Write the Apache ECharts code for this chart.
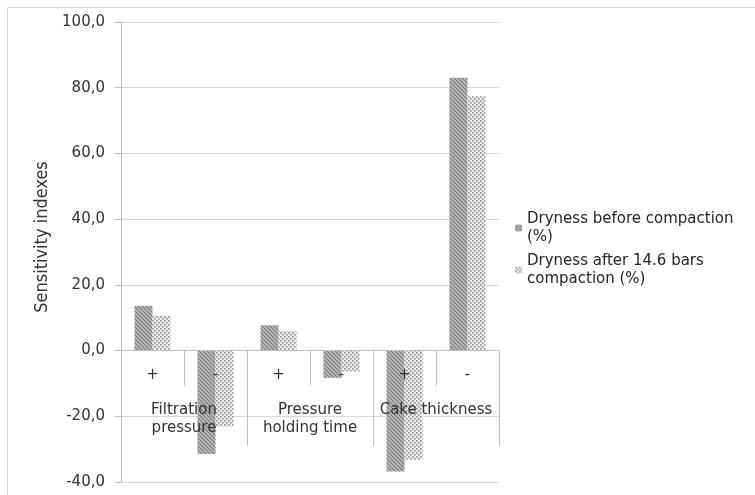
<!DOCTYPE html>
<html>
<head>
<meta charset="utf-8">
<script src="https://cdn.jsdelivr.net/npm/echarts@6/dist/echarts.min.js"></script>
<style>html,body{margin:0;padding:0;background:#fff;}#c{width:755px;height:495px;}</style>
</head>
<body>
<div id="c"></div>
<script>
// ---- data ----
const levels = ['+', '-', '+', '-', '+', '-'];
const groupLabels = ['Filtration\npressure', 'Pressure\nholding time', 'Cake thickness'];
const seriesNames = ['Dryness before compaction\n(%)', 'Dryness after 14.6 bars\ncompaction (%)'];
const beforeCompaction = [13.6, -31.5, 7.7, -8.3, -36.8, 83.0];
const afterCompaction = [10.6, -23.1, 5.9, -6.4, -33.2, 77.4];
const yTicks = { min: -40, max: 100, step: 20 };

// ---- patterns ----
function hatchPattern() {
  const c = document.createElement('canvas');
  c.width = 4; c.height = 4;
  const g = c.getContext('2d');
  g.fillStyle = '#bdbdbd'; g.fillRect(0, 0, 4, 4);
  g.strokeStyle = '#7a7a7a'; g.lineWidth = 1.2;
  g.beginPath();
  g.moveTo(-1, -1); g.lineTo(5, 5);
  g.moveTo(-3, 1); g.lineTo(1, 5);
  g.moveTo(1, -3); g.lineTo(5, 1);
  g.stroke();
  return { image: c, repeat: 'repeat' };
}
function dotPattern() {
  const c = document.createElement('canvas');
  c.width = 4; c.height = 4;
  const g = c.getContext('2d');
  g.fillStyle = '#ececec'; g.fillRect(0, 0, 4, 4);
  g.fillStyle = '#8e8e8e';
  g.fillRect(0, 0, 1.6, 1.6);
  g.fillRect(2, 2, 1.6, 1.6);
  return { image: c, repeat: 'repeat' };
}

const FONT = 'DejaVu Sans';
const GRID_TOP = 22, GRID_BOTTOM = 13, GRID_LEFT = 121, GRID_RIGHT = 256;
const plotH = 495 - GRID_TOP - GRID_BOTTOM;
const zeroY = GRID_TOP + plotH * yTicks.max / (yTicks.max - yTicks.min);

const chart = echarts.init(document.getElementById('c'), null, { renderer: 'canvas' });
chart.setOption({
  animation: false,
  backgroundColor: '#fff',
  textStyle: { fontFamily: FONT },
  graphic: [{
    type: 'rect', z: -10, silent: true,
    shape: { x: 7.5, y: 7.5, width: 800, height: 600 },
    style: { fill: 'none', stroke: '#d9d9d9', lineWidth: 1 }
  }],
  grid: [
    { left: GRID_LEFT, right: GRID_RIGHT, top: GRID_TOP, bottom: GRID_BOTTOM, containLabel: false, outerBoundsMode: 'none' },
    { left: GRID_LEFT, right: GRID_RIGHT, top: zeroY, height: 100, containLabel: false, outerBoundsMode: 'none' }
  ],
  legend: {
    orient: 'vertical', left: 515, top: 201, padding: 0,
    itemWidth: 7, itemHeight: 7, itemGap: -12,
    textStyle: { fontFamily: FONT, fontSize: 15, lineHeight: 18, color: '#262626', padding: [18, 0, 0, 0] },
    data: seriesNames
  },
  xAxis: [{
    gridIndex: 0, type: 'category', data: levels, z: 3,
    axisLine: { onZero: true, lineStyle: { color: '#bfbfbf', width: 1 } },
    axisTick: { show: false },
    axisLabel: { show: false },
    splitLine: { show: false }
  }, {
    gridIndex: 1, type: 'category', data: levels, position: 'top', z: 6,
    axisLine: { show: false, onZero: false },
    axisTick: { show: true, inside: true, length: 35, interval: 0, lineStyle: { color: '#bfbfbf' } },
    axisLabel: { inside: true, interval: 0, margin: 17, fontFamily: FONT, fontSize: 15, color: '#333' },
    splitLine: { show: false }
  }, {
    gridIndex: 1, type: 'category', data: groupLabels, position: 'top', z: 6,
    axisLine: { show: false, onZero: false },
    axisTick: { show: true, inside: true, length: 95, interval: 0, lineStyle: { color: '#bfbfbf' } },
    axisLabel: { inside: true, interval: 0, margin: 51, fontFamily: FONT, fontSize: 15, lineHeight: 18, color: '#333', verticalAlign: 'top' },
    splitLine: { show: false }
  }],
  yAxis: [{
    gridIndex: 0, type: 'value', min: yTicks.min, max: yTicks.max, interval: yTicks.step,
    name: 'Sensitivity indexes', nameLocation: 'middle', nameGap: 69,
    nameTextStyle: { fontFamily: "'DejaVu Sans Condensed', 'DejaVu Sans'", fontSize: 18, color: '#333', padding: [0, 0, 0, 30] },
    axisLine: { show: true, lineStyle: { color: '#bfbfbf' } },
    axisTick: { show: true, length: 6, lineStyle: { color: '#bfbfbf' } },
    axisLabel: { margin: 16, fontFamily: FONT, fontSize: 15, color: '#333',
      formatter: v => v.toFixed(1).replace('.', ',') },
    splitLine: { show: true, lineStyle: { color: '#d9d9d9', width: 1 } }
  }, {
    gridIndex: 1, type: 'value', show: false, min: 0, max: 1
  }],
  series: [{
    name: seriesNames[0], type: 'bar', xAxisIndex: 0, yAxisIndex: 0, data: beforeCompaction,
    barWidth: 18, barGap: '0%',
    itemStyle: { color: hatchPattern() }
  }, {
    name: seriesNames[1], type: 'bar', xAxisIndex: 0, yAxisIndex: 0, data: afterCompaction,
    barWidth: 18, barGap: '0%',
    itemStyle: { color: dotPattern() }
  }]
});
</script>
</body>
</html>
